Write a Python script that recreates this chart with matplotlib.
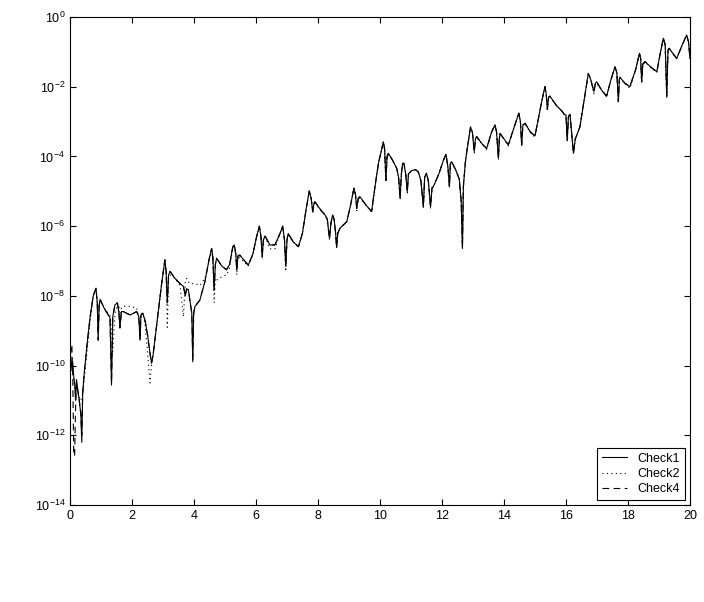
import matplotlib
matplotlib.use("Agg")
import matplotlib.pyplot as plt
import numpy as np

# shared sample positions
x_vals = [
    0.00, 0.03, 0.06, 0.09, 0.12, 0.15, 0.18, 0.21, 0.25, 0.30,
    0.35, 0.38, 0.41, 0.45, 0.55, 0.65, 0.75, 0.84, 0.88, 0.91,
    0.94, 0.97, 1.10, 1.29, 1.34, 1.38, 1.45, 1.53, 1.58, 1.61,
    1.66, 1.72, 1.94, 2.15, 2.22, 2.26, 2.29, 2.35, 2.42, 2.50,
    2.58, 2.63, 2.68, 2.80, 2.95, 3.06, 3.10, 3.14, 3.18, 3.23,
    3.39, 3.55, 3.66, 3.72, 3.76, 3.82, 3.88, 3.93, 3.96, 3.99,
    4.03, 4.19, 4.35, 4.50, 4.57, 4.61, 4.65, 4.69, 4.73, 4.90,
    5.05, 5.15, 5.25, 5.30, 5.35, 5.38, 5.42, 5.48, 5.75, 5.90,
    6.02, 6.11, 6.16, 6.20, 6.24, 6.29, 6.45, 6.61, 6.78, 6.86,
    6.92, 6.96, 7.00, 7.04, 7.20, 7.37, 7.50, 7.62, 7.72, 7.78,
    7.83, 7.87, 7.90, 8.10, 8.23, 8.30, 8.37, 8.42, 8.47, 8.52,
    8.57, 8.60, 8.64, 8.71, 8.93, 9.05, 9.16, 9.21, 9.25, 9.30,
    9.35, 9.55, 9.73, 9.85, 9.95, 10.11, 10.15, 10.19, 10.23, 10.27,
    10.40, 10.54, 10.60, 10.65, 10.69, 10.73, 10.77, 10.83, 10.88, 10.92,
    11.02, 11.15, 11.24, 11.32, 11.40, 11.44, 11.50, 11.56, 11.63, 11.68,
    11.72, 11.90, 12.05, 12.13, 12.19, 12.24, 12.27, 12.31, 12.45, 12.56,
    12.62, 12.66, 12.69, 12.75, 12.80, 12.92, 12.98, 13.04, 13.08, 13.12,
    13.30, 13.44, 13.60, 13.71, 13.76, 13.82, 13.85, 13.87, 14.00, 14.14,
    14.35, 14.48, 14.53, 14.57, 14.61, 14.68, 14.85, 15.00, 15.20, 15.32,
    15.36, 15.40, 15.44, 15.48, 15.70, 15.86, 15.95, 16.00, 16.04, 16.08,
    16.13, 16.18, 16.24, 16.30, 16.45, 16.60, 16.72, 16.80, 16.90, 16.95,
    16.99, 17.15, 17.31, 17.45, 17.58, 17.64, 17.69, 17.72, 17.74, 17.90,
    18.06, 18.25, 18.37, 18.41, 18.44, 18.48, 18.55, 18.75, 18.93, 19.05,
    19.14, 19.20, 19.25, 19.29, 19.33, 19.45, 19.57, 19.75, 19.89, 19.95,
    20.00,
]

# log10 of each check value
check1_log = [
    -9.9, -9.75, -10.1, -9.9, -10.3, -10.5, -11.0, -10.4, -10.7, -11.0,
    -11.4, -12.2, -10.8, -10.3, -9.4, -8.6, -8.0, -7.78, -8.2, -9.27,
    -8.3, -8.1, -8.35, -8.63, -10.56, -8.6, -8.26, -8.2, -8.5, -8.92,
    -8.45, -8.45, -8.55, -8.45, -8.6, -9.27, -8.55, -8.5, -8.7, -9.1,
    -9.64, -9.93, -9.7, -8.8, -7.7, -6.97, -7.3, -8.2, -7.4, -7.3,
    -7.5, -7.65, -7.73, -8.0, -7.8, -7.83, -8.2, -8.5, -9.89, -8.5,
    -8.31, -8.12, -7.6, -6.9, -6.64, -6.9, -7.83, -7.1, -6.92, -7.15,
    -7.25, -7.1, -6.6, -6.54, -6.8, -7.26, -6.85, -6.83, -7.12, -6.8,
    -6.3, -6.0, -6.3, -6.87, -6.4, -6.28, -6.54, -6.54, -6.2, -6.0,
    -6.4, -7.16, -6.4, -6.21, -6.45, -6.59, -6.2, -5.5, -4.99, -5.2,
    -5.58, -5.35, -5.3, -5.55, -5.68, -5.8, -6.35, -5.9, -5.68, -5.8,
    -6.2, -6.61, -6.2, -6.06, -5.87, -5.4, -4.91, -5.1, -5.49, -5.2,
    -5.15, -5.4, -5.58, -4.8, -4.2, -3.58, -3.8, -4.68, -4.0, -3.91,
    -4.1, -4.34, -4.6, -5.2, -4.5, -4.2, -4.2, -4.5, -5.01, -4.5,
    -4.41, -4.38, -4.45, -4.7, -5.44, -4.6, -4.48, -4.7, -5.44, -4.9,
    -4.87, -4.5, -4.1, -3.94, -4.3, -4.87, -4.2, -4.15, -4.4, -4.66,
    -5.3, -6.64, -4.87, -4.2, -3.86, -3.16, -3.3, -3.86, -3.5, -3.43,
    -3.65, -3.77, -3.3, -3.1, -3.3, -4.05, -3.5, -3.34, -3.5, -3.67,
    -3.1, -2.76, -3.0, -3.67, -3.1, -3.05, -3.3, -3.41, -2.5, -2.0,
    -2.2, -2.65, -2.3, -2.27, -2.55, -2.69, -2.8, -2.81, -3.53, -2.85,
    -2.8, -3.3, -3.91, -3.5, -3.15, -2.3, -1.62, -1.8, -2.14, -1.9,
    -1.86, -2.1, -2.27, -1.8, -1.43, -1.6, -2.43, -1.8, -1.73, -1.9,
    -2.0, -1.5, -1.04, -1.2, -1.86, -1.35, -1.28, -1.45, -1.57, -1.0,
    -0.61, -0.8, -2.27, -0.95, -0.9, -1.05, -1.19, -0.8, -0.52, -0.7,
    -1.19,
]

check2_log = [
    -10.0, -10.1, -10.2, -10.3, -10.4, -10.6, -10.8, -10.5, -10.7, -10.9,
    -11.0, -10.9, -10.8, -10.5, -9.6, -8.7, -8.0, -7.8, -8.2, -9.0,
    -8.3, -8.1, -8.35, -8.55, -9.0, -9.6, -8.5, -8.3, -8.3, -8.6,
    -8.35, -8.3, -8.3, -8.35, -8.6, -9.0, -8.5, -8.5, -8.8, -9.6,
    -10.5, -10.0, -9.7, -8.8, -7.7, -6.97, -7.3, -8.9, -7.5, -7.4,
    -7.5, -7.7, -8.6, -7.6, -7.5, -7.6, -7.65, -7.65, -7.65, -7.65,
    -7.65, -7.7, -7.5, -6.95, -6.7, -7.0, -8.2, -7.5, -7.55, -7.45,
    -7.4, -7.2, -6.6, -6.54, -6.8, -7.4, -6.85, -6.9, -7.15, -6.8,
    -6.3, -6.0, -6.3, -6.95, -6.4, -6.3, -6.65, -6.65, -6.2, -6.0,
    -6.4, -7.3, -6.4, -6.25, -6.45, -6.6, -6.2, -5.5, -4.99, -5.2,
    -5.65, -5.4, -5.35, -5.55, -5.7, -5.8, -6.4, -5.9, -5.7, -5.8,
    -6.2, -6.65, -6.2, -6.06, -5.87, -5.4, -4.91, -5.1, -5.55, -5.2,
    -5.2, -5.4, -5.6, -4.8, -4.2, -3.58, -3.8, -4.75, -4.0, -3.95,
    -4.1, -4.35, -4.6, -5.25, -4.5, -4.2, -4.2, -4.5, -5.05, -4.5,
    -4.41, -4.38, -4.45, -4.7, -5.5, -4.6, -4.5, -4.7, -5.5, -4.9,
    -4.87, -4.5, -4.1, -3.94, -4.3, -4.9, -4.2, -4.15, -4.4, -4.66,
    -5.3, -6.64, -4.87, -4.2, -3.86, -3.16, -3.3, -3.9, -3.5, -3.45,
    -3.65, -3.8, -3.3, -3.1, -3.3, -4.1, -3.5, -3.35, -3.5, -3.7,
    -3.1, -2.76, -3.0, -3.7, -3.1, -3.05, -3.3, -3.45, -2.5, -2.0,
    -2.2, -2.7, -2.3, -2.3, -2.55, -2.7, -2.8, -2.85, -3.55, -2.85,
    -2.8, -3.3, -3.91, -3.5, -3.15, -2.3, -1.62, -1.8, -2.2, -1.9,
    -1.9, -2.1, -2.3, -1.8, -1.43, -1.6, -2.45, -1.8, -1.75, -1.9,
    -2.05, -1.5, -1.04, -1.2, -1.9, -1.35, -1.3, -1.45, -1.6, -1.0,
    -0.61, -0.8, -2.3, -0.95, -0.9, -1.05, -1.2, -0.8, -0.52, -0.7,
    -1.19,
]

check4_log = [
    -10.0, -9.5, -9.4, -10.3, -12.5, -12.6, -11.2, -10.5, -10.7, -11.0,
    -11.4, -12.0, -10.8, -10.3, -9.4, -8.6, -8.0, -7.78, -8.2, -9.27,
    -8.3, -8.1, -8.35, -8.63, -10.5, -8.6, -8.26, -8.2, -8.5, -8.92,
    -8.45, -8.45, -8.55, -8.45, -8.6, -9.27, -8.55, -8.5, -8.7, -9.1,
    -9.64, -9.93, -9.7, -8.8, -7.7, -6.97, -7.3, -8.2, -7.4, -7.3,
    -7.5, -7.65, -7.73, -8.0, -7.8, -7.83, -8.2, -8.5, -9.85, -8.5,
    -8.31, -8.12, -7.6, -6.9, -6.64, -6.9, -7.83, -7.1, -6.92, -7.15,
    -7.25, -7.1, -6.6, -6.54, -6.8, -7.26, -6.85, -6.83, -7.12, -6.8,
    -6.3, -6.0, -6.3, -6.87, -6.4, -6.28, -6.54, -6.54, -6.2, -6.0,
    -6.4, -7.16, -6.4, -6.21, -6.45, -6.59, -6.2, -5.5, -4.99, -5.2,
    -5.58, -5.35, -5.3, -5.55, -5.68, -5.8, -6.35, -5.9, -5.68, -5.8,
    -6.2, -6.61, -6.2, -6.06, -5.87, -5.4, -4.91, -5.1, -5.49, -5.2,
    -5.15, -5.4, -5.58, -4.8, -4.2, -3.58, -3.8, -4.68, -4.0, -3.91,
    -4.1, -4.34, -4.6, -5.2, -4.5, -4.2, -4.2, -4.5, -5.01, -4.5,
    -4.41, -4.38, -4.45, -4.7, -5.44, -4.6, -4.48, -4.7, -5.44, -4.9,
    -4.87, -4.5, -4.1, -3.94, -4.3, -4.87, -4.2, -4.15, -4.4, -4.66,
    -5.3, -6.6, -4.87, -4.2, -3.86, -3.16, -3.3, -3.86, -3.5, -3.43,
    -3.65, -3.77, -3.3, -3.1, -3.3, -4.05, -3.5, -3.34, -3.5, -3.67,
    -3.1, -2.76, -3.0, -3.67, -3.1, -3.05, -3.3, -3.41, -2.5, -2.0,
    -2.2, -2.65, -2.3, -2.27, -2.55, -2.69, -2.8, -2.81, -3.53, -2.85,
    -2.8, -3.3, -3.91, -3.5, -3.15, -2.3, -1.62, -1.8, -2.14, -1.9,
    -1.86, -2.1, -2.27, -1.8, -1.43, -1.6, -2.43, -1.8, -1.73, -1.9,
    -2.0, -1.5, -1.04, -1.2, -1.86, -1.35, -1.28, -1.45, -1.57, -1.0,
    -0.61, -0.8, -2.27, -0.95, -0.9, -1.05, -1.19, -0.8, -0.52, -0.7,
    -1.19,
]

series_names = ["Check1", "Check2", "Check4"]

plt.rcParams.update({
    "font.family": ["Liberation Sans", "DejaVu Sans"],
    "font.size": 9,
    "mathtext.default": "regular",
    "xtick.direction": "in",
    "ytick.direction": "in",
    "xtick.top": True,
    "ytick.right": True,
    "xtick.major.size": 4.3,
    "ytick.major.size": 4.3,
    "xtick.minor.visible": False,
    "ytick.minor.visible": False,
})

fig = plt.figure(figsize=(7.04, 6.02), dpi=100)
ax = fig.add_axes([0.0994, 0.1611, 0.8807, 0.8107])

x = np.array(x_vals)
ax.plot(x, 10 ** np.array(check1_log), color="black", linewidth=0.8,
        linestyle="-", label=series_names[0])
ax.plot(x, 10 ** np.array(check2_log), color="black", linewidth=0.8,
        linestyle=(0, (1, 3)), label=series_names[1])
ax.plot(x, 10 ** np.array(check4_log), color="black", linewidth=0.8,
        linestyle=(0, (6, 4)), label=series_names[2])

ax.set_yscale("log")
ax.set_xlim(0, 20)
ax.set_ylim(1e-14, 1e0)
ax.set_xticks(np.arange(0, 21, 2))
ax.set_yticks([10.0 ** k for k in range(-14, 1, 2)])
ax.yaxis.set_minor_locator(matplotlib.ticker.NullLocator())
for s in ax.spines.values():
    s.set_linewidth(0.8)
ax.tick_params(width=0.8, labelsize=9)

leg = ax.legend(loc="lower right", fancybox=False, edgecolor="black",
                framealpha=1, fontsize=9, handlelength=2.0,
                handletextpad=0.8, borderaxespad=0.4, labelspacing=0.25)
leg.get_frame().set_linewidth(0.8)

fig.savefig("out.png", dpi=100)
